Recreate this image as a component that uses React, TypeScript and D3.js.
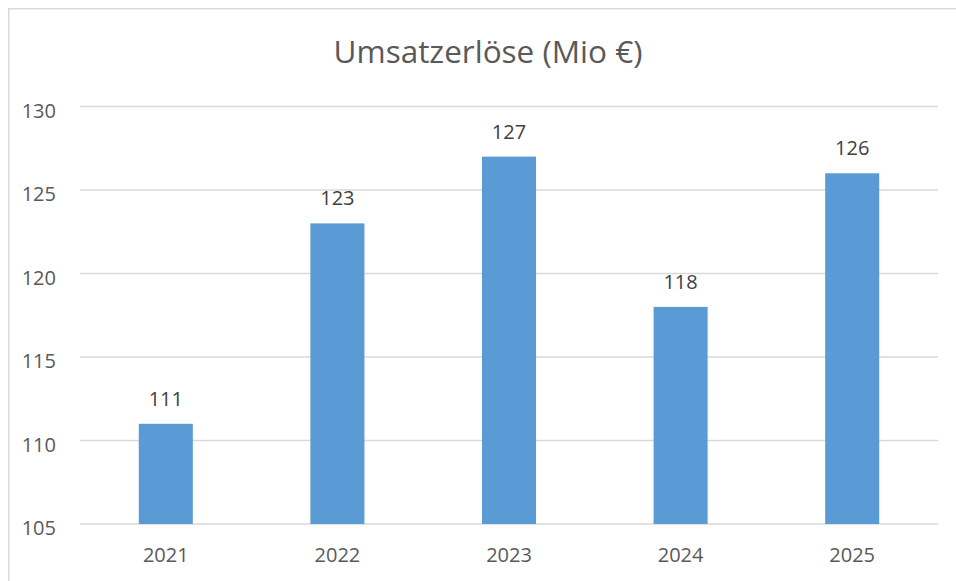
import React from "react";
import * as d3 from "d3";

const categories = ["2021", "2022", "2023", "2024", "2025"];
const values = [111, 123, 127, 118, 126];
const yTicks = [105, 110, 115, 120, 125, 130];
const title = "Umsatzerlöse (Mio €)";

export default function App() {
  const W = 960;
  const H = 580;
  // svg placed at page (8,8)
  const left = 72;
  const right = 930;
  const top = 98.5;
  const bottom = 516;
  const x = d3.scaleBand().domain(categories).range([left, right]).padding(0);
  const y = d3.scaleLinear().domain([105, 130]).range([bottom, top]);
  const barW = x.bandwidth() * 0.315;
  const font = "'Open Sans', sans-serif";
  const textColor = "#595959";
  return (
    <svg
      width={W}
      height={H}
      style={{ display: "block", position: "fixed", left: 8, top: 8 }}
      fontFamily={font}
    >
      <rect x={0} y={0} width={W} height={H} fill="#fff" />
      <line x1={0} x2={W} y1={0.75} y2={0.75} stroke="#d9d9d9" strokeWidth={1.5} />
      <line x1={0.75} x2={0.75} y1={0} y2={H} stroke="#d9d9d9" strokeWidth={1.5} />
      <text x={480} y={55} textAnchor="middle" fontSize={31.5} fill={textColor}>
        {title}
      </text>
      {yTicks.map((t) => (
        <g key={t}>
          <line x1={left} x2={right} y1={y(t)} y2={y(t)} stroke="#d9d9d9" strokeWidth={1.5} />
          <text x={48} y={y(t) + 11} textAnchor="end" fontSize={20} fill={textColor}>
            {t}
          </text>
        </g>
      ))}
      {categories.map((c, i) => {
        const cx = (x(c) as number) + x.bandwidth() / 2;
        return (
          <g key={c}>
            <rect x={cx - barW / 2} y={y(values[i])} width={barW} height={bottom - y(values[i])} fill="#5b9bd5" />
            <text x={cx} y={y(values[i]) - 18} textAnchor="middle" fontSize={20} fill="#404040">
              {values[i]}
            </text>
            <text x={cx} y={bottom + 38} textAnchor="middle" fontSize={20} fill={textColor}>
              {c}
            </text>
          </g>
        );
      })}
    </svg>
  );
}
